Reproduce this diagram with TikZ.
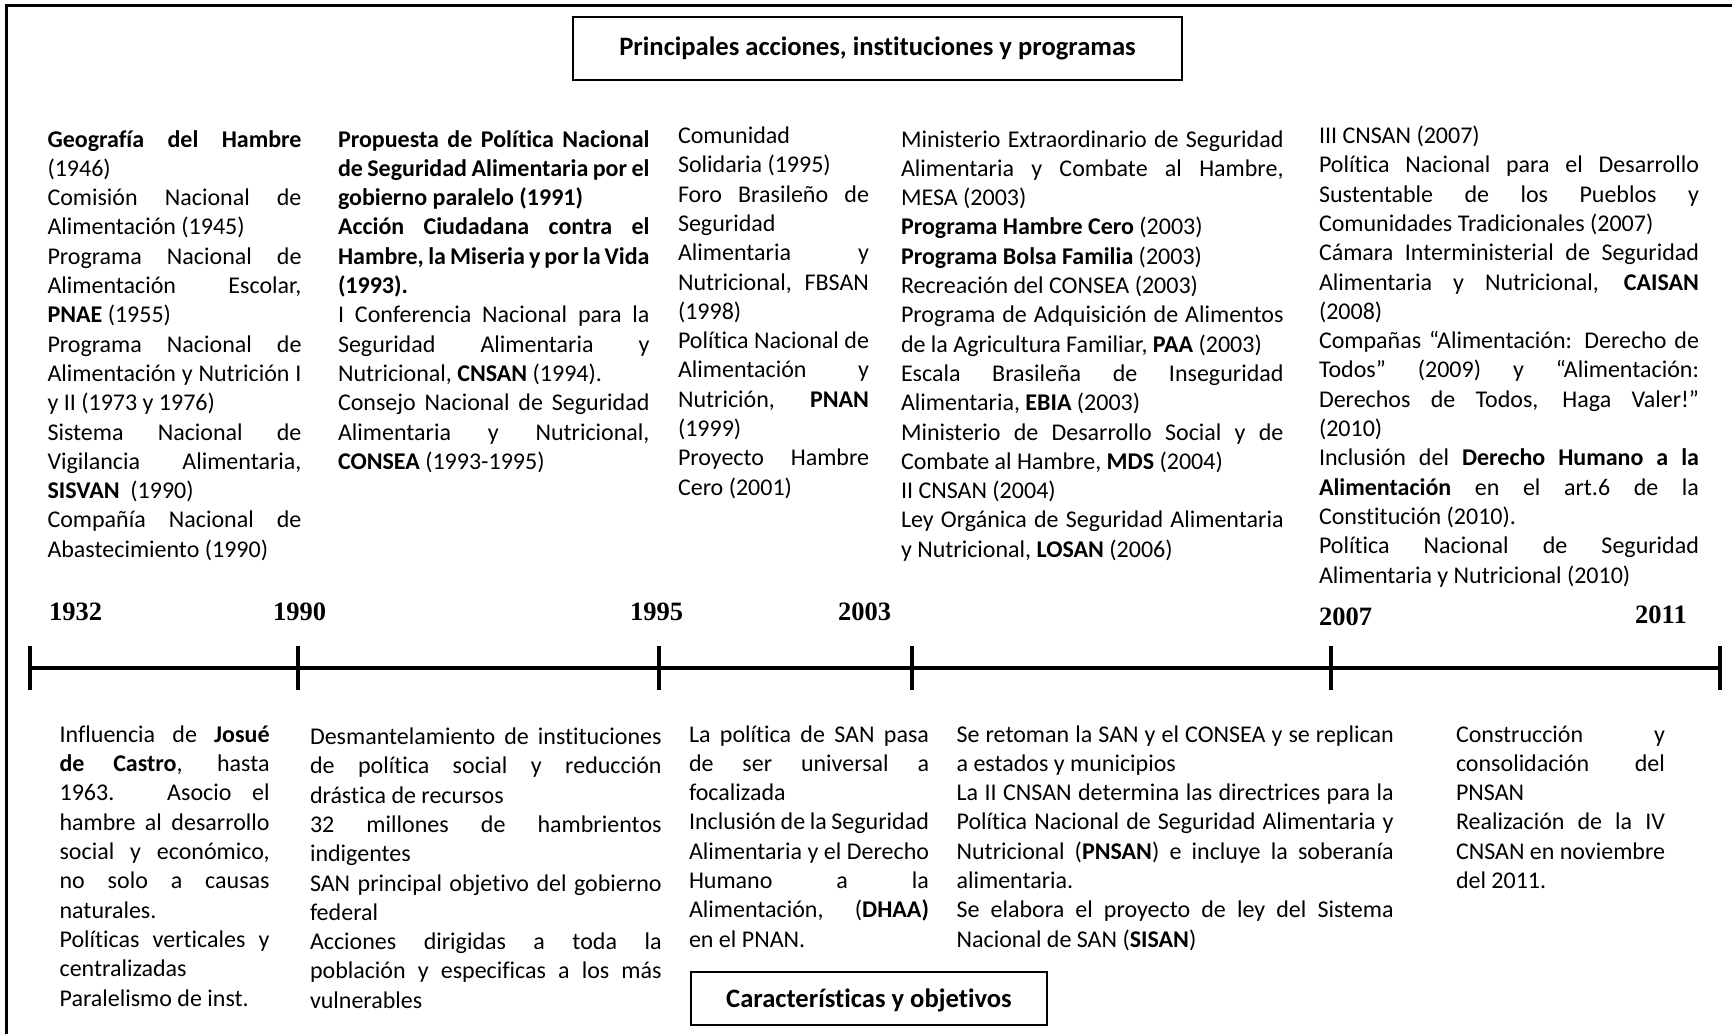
\documentclass[tikz,border=0pt]{standalone}
\usepackage{fontspec}
\setmainfont{Carlito}[Ligatures=NoCommon]
\newfontfamily\yearfont{Liberation Serif}
\usetikzlibrary{calc}
\newcommand\Jl[1]{\hbox to\hsize{#1}}
\newcommand\Rl[1]{\hbox{#1}}
\newcommand\colbox[2]{\vtop{\hsize=#1\relax #2}}
\tikzset{
  col/.style={anchor=base west, inner sep=0pt, outer sep=0pt,
    font=\fontsize{24}{29.3}\selectfont},
  yearlbl/.style={anchor=base west, inner sep=0pt,
    font=\fontsize{26.5}{30}\selectfont\yearfont\bfseries},
  headbox/.style={draw, line width=2.2pt, inner sep=0pt,
    font=\fontsize{26.6}{30}\selectfont\bfseries},
  axis/.style={line width=4pt},
  tick/.style={line width=3.5pt},
  frame/.style={line width=3pt}
}
\begin{document}
\begin{tikzpicture}[x=1pt,y=-1pt]
\useasboundingbox (0,0) rectangle (1732,1034);
\draw[frame] (6,1034) -- (6,5) -- (1732,5);

% header boxes
\node[headbox, minimum width=609pt, minimum height=63pt] (title) at (877.5,48.5)
  {Principales acciones, instituciones y programas};
\node[headbox, minimum width=355.5pt, minimum height=53pt, text depth=0pt, text height=17pt] (char) at (869,998.5)
  {Características y objetivos};

% timeline
\coordinate (t0) at (30,668);
\coordinate (t1) at (298,668);
\coordinate (t2) at (659,668);
\coordinate (t3) at (912,668);
\coordinate (t4) at (1331,668);
\coordinate (t5) at (1720,668);
\draw[axis] (t0) -- (t5);
\foreach \t in {t0,t1,t2,t3,t4,t5}
  \draw[tick] ($(\t)+(0,-22)$) -- ($(\t)+(0,22)$);

% years
\node[yearlbl] (y1932) at (49,620) {1932};
\node[yearlbl] (y1990) at (273,620) {1990};
\node[yearlbl] (y1995) at (630,620) {1995};
\node[yearlbl] (y2003) at (838,620) {2003};
\node[yearlbl] (y2007) at (1319,625) {2007};
\node[yearlbl] (y2011) at (1635,623) {2011};

% top columns
\node[col] (c1) at (47.5,147) {\colbox{254pt}{%
\Jl{\textbf{Geografía del Hambre}}
\Rl{(1946)}
\Jl{Comisión Nacional de}
\Rl{Alimentación (1945)}
\Jl{Programa Nacional de}
\Jl{Alimentación Escolar,}
\Rl{\textbf{PNAE} (1955)}
\Jl{Programa Nacional de}
\Jl{Alimentación y Nutrición I}
\Rl{y II (1973 y 1976)}
\Jl{Sistema Nacional de}
\Jl{Vigilancia Alimentaria,}
\Rl{\textbf{SISVAN}\ \ (1990)}
\Jl{Compañía Nacional de}
\Rl{Abastecimiento (1990)}
}};

\node[col] (c2) at (338,147) {\colbox{311.5pt}{%
\Jl{\textbf{Propuesta de Política Nacional}}
\Jl{\textbf{de Seguridad Alimentaria por el}}
\Rl{\textbf{gobierno paralelo (1991)}}
\Jl{\textbf{Acción Ciudadana contra el}}
\Jl{\textbf{Hambre, la Miseria y por la Vida}}
\Rl{\textbf{(1993).}}
\Jl{I Conferencia Nacional para la}
\Jl{Seguridad Alimentaria y}
\Rl{Nutricional, \textbf{CNSAN} (1994).}
\Jl{Consejo Nacional de Seguridad}
\Jl{Alimentaria y Nutricional,}
\Rl{\textbf{CONSEA} (1993-1995)}
}};

\node[col] (c3) at (678,143.5) {\colbox{191pt}{%
\Rl{Comunidad}
\Rl{Solidaria (1995)}
\Jl{Foro Brasileño de}
\Rl{Seguridad}
\Jl{Alimentaria y}
\Jl{Nutricional, FBSAN}
\Rl{(1998)}
\Jl{Política Nacional de}
\Jl{Alimentación y}
\Jl{Nutrición, \textbf{PNAN}}
\Rl{(1999)}
\Jl{Proyecto Hambre}
\Rl{Cero (2001)}
}};

\node[col] (c4) at (901,147) {\colbox{382.5pt}{%
\Jl{Ministerio Extraordinario de Seguridad}
\Jl{Alimentaria y Combate al Hambre,}
\Rl{MESA (2003)}
\Rl{\textbf{Programa Hambre Cero} (2003)}
\Rl{\textbf{Programa Bolsa Familia} (2003)}
\Rl{Recreación del CONSEA (2003)}
\Jl{Programa de Adquisición de Alimentos}
\Rl{de la Agricultura Familiar, \textbf{PAA} (2003)}
\Jl{Escala Brasileña de Inseguridad}
\Rl{Alimentaria, \textbf{EBIA} (2003)}
\Jl{Ministerio de Desarrollo Social y de}
\Rl{Combate al Hambre, \textbf{MDS} (2004)}
\Rl{II CNSAN (2004)}
\Jl{Ley Orgánica de Seguridad Alimentaria}
\Rl{y Nutricional, \textbf{LOSAN} (2006)}
}};

\node[col] (c5) at (1319,143.5) {\colbox{380pt}{%
\Rl{III CNSAN (2007)}
\Jl{Política Nacional para el Desarrollo}
\Jl{Sustentable de los Pueblos y}
\Rl{Comunidades Tradicionales (2007)}
\Jl{Cámara Interministerial de Seguridad}
\Jl{Alimentaria y Nutricional, \textbf{CAISAN}}
\Rl{(2008)}
\Jl{Compañas “Alimentación: Derecho de}
\Jl{Todos” (2009) y “Alimentación:}
\Jl{Derechos de Todos, Haga Valer!”}
\Rl{(2010)}
\Jl{Inclusión del \textbf{Derecho Humano a la}}
\Jl{\textbf{Alimentación} en el art.6 de la}
\Rl{Constitución (2010).}
\Jl{Política Nacional de Seguridad}
\Rl{Alimentaria y Nutricional (2010)}
}};

% bottom columns
\node[col] (b1) at (59.6,742.3) {\colbox{210pt}{%
\Jl{Influencia de \textbf{Josué}}
\Jl{\textbf{de Castro}, hasta}
\Jl{1963. Asocio el}
\Jl{hambre al desarrollo}
\Jl{social y económico,}
\Jl{no solo a causas}
\Rl{naturales.}
\Jl{Políticas verticales y}
\Rl{centralizadas}
\Rl{Paralelismo de inst.}
}};

\node[col] (b2) at (310,744.5) {\colbox{351.6pt}{%
\Jl{Desmantelamiento de instituciones}
\Jl{de política social y reducción}
\Rl{drástica de recursos}
\Jl{32 millones de hambrientos}
\Rl{indigentes}
\Jl{SAN principal objetivo del gobierno}
\Rl{federal}
\Jl{Acciones dirigidas a toda la}
\Jl{población y especificas a los más}
\Rl{vulnerables}
}};

\node[col] (b3) at (689,742) {\colbox{240pt}{%
\Jl{La política de SAN pasa}
\Jl{de ser universal a}
\Rl{focalizada}
\Jl{Inclusión de la Seguridad}
\Jl{Alimentaria y el Derecho}
\Jl{Humano a la}
\Jl{Alimentación, (\textbf{DHAA)}}
\Rl{en el PNAN.}
}};

\node[col] (b4) at (956.6,742) {\colbox{437pt}{%
\Jl{Se retoman la SAN y el CONSEA y se replican}
\Rl{a estados y municipios}
\Jl{La II CNSAN determina las directrices para la}
\Jl{Política Nacional de Seguridad Alimentaria y}
\Jl{Nutricional (\textbf{PNSAN}) e incluye la soberanía}
\Rl{alimentaria.}
\Jl{Se elabora el proyecto de ley del Sistema}
\Rl{Nacional de SAN (\textbf{SISAN})}
}};

\node[col] (b5) at (1456,742) {\colbox{209pt}{%
\Jl{Construcción y}
\Jl{consolidación del}
\Rl{PNSAN}
\Jl{Realización de la IV}
\Jl{CNSAN en noviembre}
\Rl{del 2011.}
}};
\end{tikzpicture}
\end{document}
